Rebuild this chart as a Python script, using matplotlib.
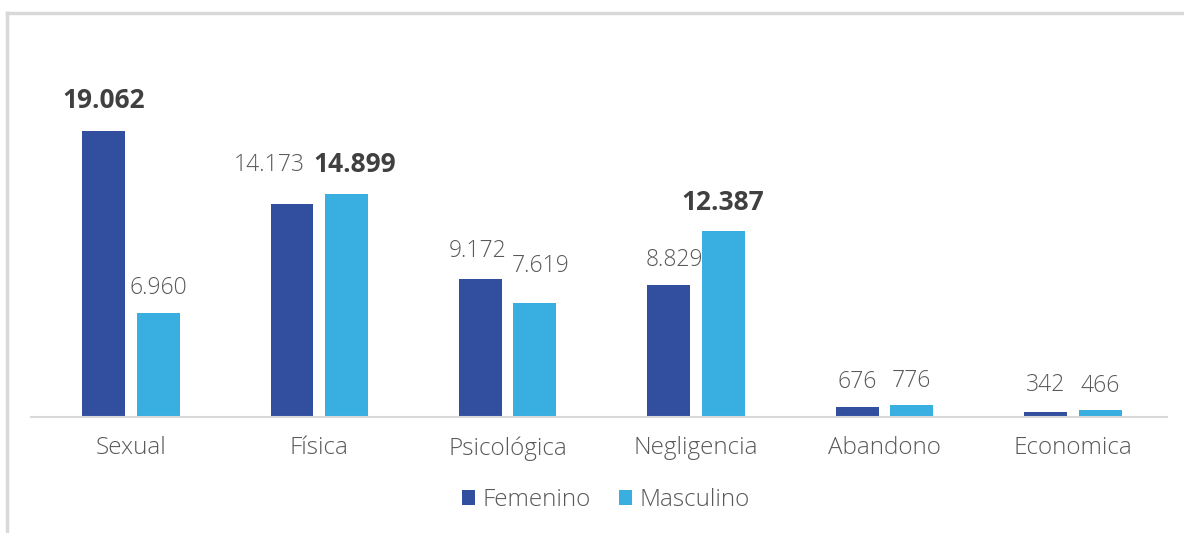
import numpy as np
import matplotlib
matplotlib.use('Agg')
import matplotlib.pyplot as plt
from matplotlib.lines import Line2D
from matplotlib.patches import Patch

# --- Datos ---
categorias = ["Sexual", "Física", "Psicológica", "Negligencia", "Abandono", "Economica"]
femenino = [19062, 14173, 9172, 8829, 676, 342]
masculino = [6960, 14899, 7619, 12387, 776, 466]
etiquetas_fem = ["19.062", "14.173", "9.172", "8.829", "676", "342"]
etiquetas_masc = ["6.960", "14.899", "7.619", "12.387", "776", "466"]
negrita_fem = [True, False, False, False, False, False]
negrita_masc = [False, True, False, True, False, False]

COLOR_FEM = '#324e9e'
COLOR_MASC = '#39aee0'
COLOR_TEXTO = '#595959'
COLOR_NEGRITA = '#404040'

plt.rcParams['font.family'] = ['Open Sans', 'DejaVu Sans']

fig = plt.figure(figsize=(11.84, 5.33), dpi=100)
ax = fig.add_axes([31 / 1184, 1 - 417 / 533, (1167 - 31) / 1184, (417 - 42) / 533])

x = np.arange(len(categorias))
ancho = 0.228
desp = 0.1446
b1 = ax.bar(x - desp, femenino, ancho, color=COLOR_FEM, label="Femenino")
b2 = ax.bar(x + desp, masculino, ancho, color=COLOR_MASC, label="Masculino")

ax.set_ylim(0, 25000)
ax.set_xlim(-0.53, 5.5)

# desplazamientos de etiquetas (puntos) para evitar solapes, como en Excel
off_fem = [(0, 12), (-16, 20), (-2, 12), (4, 9), (0, 9), (0, 11)]
off_masc = [(0, 9), (6, 11), (4, 18), (0, 11), (0, 9), (0, 9)]

def etiquetar(barras, textos, negritas, offs):
    for rect, t, nb, (dx, dy) in zip(barras, textos, negritas, offs):
        ax.annotate(t, (rect.get_x() + rect.get_width() / 2, rect.get_height()),
                    xytext=(dx, dy), textcoords='offset points',
                    ha='center', va='bottom',
                    fontsize=19 if nb else 16.5,
                    fontweight='bold' if nb else 'light',
                    color=COLOR_NEGRITA if nb else COLOR_TEXTO)

etiquetar(b1, etiquetas_fem, negrita_fem, off_fem)
etiquetar(b2, etiquetas_masc, negrita_masc, off_masc)

ax.set_xticks(x)
ax.set_xticklabels(categorias, fontsize=17.5, color=COLOR_TEXTO, fontweight='light')
ax.tick_params(axis='x', length=0, pad=14)
ax.set_yticks([])
for s in ['top', 'right', 'left']:
    ax.spines[s].set_visible(False)
ax.spines['bottom'].set_color('#d9d9d9')
ax.spines['bottom'].set_linewidth(1.5)

handles = [Patch(facecolor=COLOR_FEM), Patch(facecolor=COLOR_MASC)]
leg = fig.legend(handles, ["Femenino", "Masculino"], loc='center',
                 bbox_to_anchor=(606 / 1184, 1 - 500 / 533), ncol=2, frameon=False,
                 fontsize=17.5, handlelength=0.55, handleheight=0.55, handletextpad=0.3,
                 columnspacing=1.15)
for t in leg.get_texts():
    t.set_color(COLOR_TEXTO)
    t.set_fontweight('light')

# marco gris claro (solo arriba e izquierda visibles)
fig.add_artist(Line2D([7 / 1184, 1], [1 - 13 / 533, 1 - 13 / 533], color='#d9d9d9', lw=2.5))
fig.add_artist(Line2D([7 / 1184, 7 / 1184], [0, 1 - 13 / 533], color='#d9d9d9', lw=2.5))

fig.savefig('out.png', dpi=100)
